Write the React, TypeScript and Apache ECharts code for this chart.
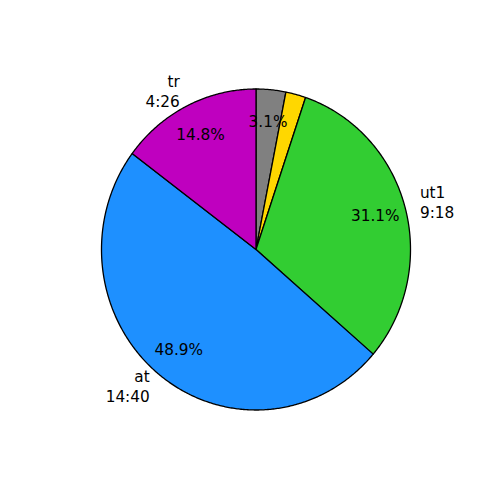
import React, { useEffect, useRef } from "react";
import * as echarts from "echarts";

const names = ["other", "misc", "ut1", "at", "tr"];
const values = [3.1, 2.1, 31.1, 48.9, 14.8];
const timeLabels = ["", "", "9:18", "14:40", "4:26"];
const showPct = [true, false, true, true, true];
const colors = ["#808080", "#FFD700", "#32CD32", "#1E90FF", "#BF00BF"];

export default function App() {
  const ref = useRef<HTMLDivElement>(null);
  useEffect(() => {
    if (!ref.current) return;
    const chart = echarts.init(ref.current, undefined, { renderer: "svg" });
    const cx = 256;
    const cy = 249.5;
    const rx = 154.5;
    const ry = 160.5;
    const fontFamily = "DejaVu Sans";
    const fontSize = 15.3;
    const renderItem = (params: any, api: any) => {
      const i = params.dataIndex;
      const total = values.reduce((a, b) => a + b, 0);
      let start = 0;
      for (let k = 0; k < i; k++) start += values[k];
      const v = api.value(0);
      const a0 = (start / total) * Math.PI * 2;
      const a1 = ((start + v) / total) * Math.PI * 2;
      const n = Math.max(2, Math.ceil((a1 - a0) / (Math.PI / 360)));
      const pts: number[][] = [[cx, cy]];
      for (let j = 0; j <= n; j++) {
        const a = a0 + ((a1 - a0) * j) / n;
        pts.push([cx + rx * Math.sin(a), cy - ry * Math.cos(a)]);
      }
      const mid = (a0 + a1) / 2;
      const sx = Math.sin(mid);
      const cyy = Math.cos(mid);
      const children: any[] = [
        {
          type: "polygon",
          shape: { points: pts },
          style: { fill: colors[i], stroke: "#000", lineWidth: 1.3, lineJoin: "round" },
        },
      ];
      if (showPct[i]) {
        children.push({
          type: "text",
          x: cx + 0.8 * rx * sx,
          y: cy - 0.8 * ry * cyy,
          z2: 10,
          style: {
            text: `${v.toFixed(1)}%`,
            fill: "#000",
            fontFamily,
            fontSize,
            align: "center",
            verticalAlign: "middle",
          },
        });
      }
      if (timeLabels[i] !== "") {
        children.push({
          type: "text",
          x: cx + 1.1 * rx * sx,
          y: cy - 1.1 * ry * cyy,
          z2: 10,
          style: {
            text: `${names[i]}\n${timeLabels[i]}`,
            fill: "#000",
            fontFamily,
            fontSize,
            lineHeight: 20,
            align: sx > 0 ? "left" : "right",
            verticalAlign: "middle",
          },
        });
      }
      return { type: "group", children };
    };
    chart.setOption({
      animation: false,
      backgroundColor: "#fff",
      series: [
        {
          type: "custom",
          coordinateSystem: "none",
          silent: true,
          renderItem,
          data: values.map((v, i) => ({ name: names[i], value: [v] })),
        },
      ],
    });
    return () => chart.dispose();
  }, []);
  return (
    <div
      ref={ref}
      style={{ position: "fixed", left: 0, top: 0, width: 500, height: 500 }}
    />
  );
}
